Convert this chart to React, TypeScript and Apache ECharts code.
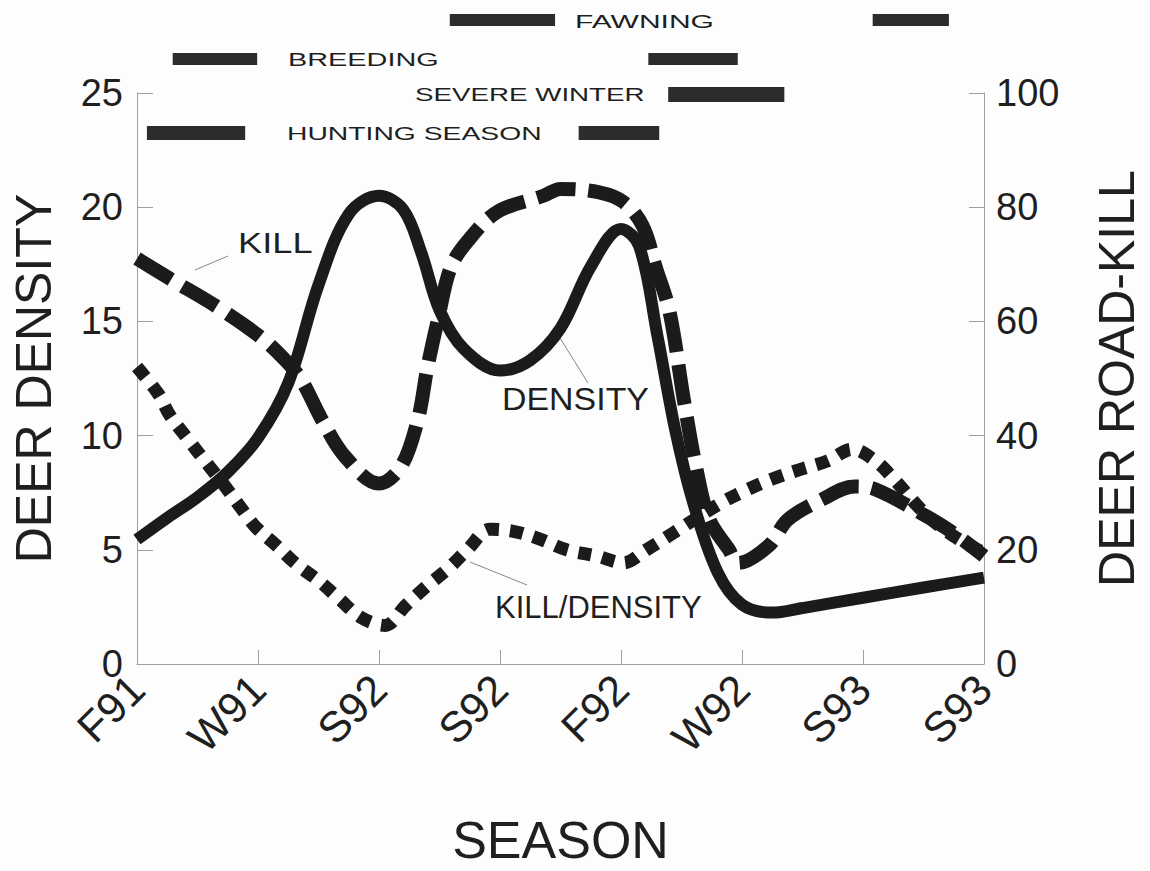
import React, { useEffect, useRef } from "react";
import * as echarts from "echarts";

// Category tick labels (x positions 0..7)
const seasons = ["F91", "W91", "S92", "S92", "F92", "W92", "S93", "S93"];

// Deer density (left axis), [season position, density]
const densityPts: [number, number][] = [
  [0, 5.45], [0.25, 6.4], [0.5, 7.3], [0.75, 8.4], [1.0, 9.9], [1.25, 12.3],
  [1.5, 16.6], [1.75, 19.7], [2.0, 20.5], [2.2, 19.9], [2.35, 18.0], [2.5, 15.5],
  [2.7, 13.8], [3.0, 12.85], [3.25, 13.3], [3.5, 14.7], [3.75, 17.4], [4.0, 19.05],
  [4.15, 18.3], [4.3, 14.4], [4.45, 10.2], [4.6, 7.0], [4.8, 4.0], [5.0, 2.6],
  [5.25, 2.25], [5.5, 2.45], [6.0, 2.9], [6.5, 3.35], [7.0, 3.78],
];

// Deer road-kill (right axis)
const killPts: [number, number][] = [
  [0, 71], [0.27, 67.5], [0.68, 62.3], [1.03, 57.1], [1.23, 53.1], [1.36, 49.7],
  [1.53, 42.7], [1.72, 36.3], [2.0, 31.6], [2.18, 34.5], [2.32, 42.7], [2.4, 51.9],
  [2.49, 60.6], [2.59, 69.3], [2.73, 74], [2.98, 79.2], [3.36, 82], [3.5, 83.2],
  [3.82, 82.6], [4.02, 80.9], [4.18, 76.7], [4.29, 69.3], [4.4, 61.8], [4.52, 46.2],
  [4.62, 34.5], [4.73, 25.3], [4.89, 20.1], [4.97, 17.7], [5.22, 20.7], [5.38, 25.3],
  [5.66, 28.8], [5.93, 31.1], [6.1, 30.6], [6.48, 26.4], [6.75, 22.9], [7, 18.9],
];

// Kill / density ratio (left axis)
const ratioPts: [number, number][] = [
  [0, 13.0], [0.18, 11.8], [0.27, 10.9], [0.42, 9.85], [0.56, 8.9], [0.71, 7.9],
  [0.85, 6.9], [0.98, 6.0], [1.15, 5.2], [1.31, 4.4], [1.5, 3.65], [1.67, 2.86],
  [1.85, 2.04], [2.05, 1.69], [2.22, 2.56], [2.4, 3.43], [2.57, 4.17], [2.73, 5.0],
  [2.92, 5.9], [3.12, 5.8], [3.33, 5.47], [3.55, 5.0], [3.8, 4.73], [4.02, 4.43],
  [4.21, 5.0], [4.43, 5.73], [4.81, 7.0], [5.03, 7.6], [5.25, 8.1], [5.47, 8.5],
  [5.71, 8.9], [5.91, 9.4], [6.1, 8.9], [6.26, 8.07], [6.51, 6.6], [6.75, 5.6], [7, 4.86],
];

// Seasonal periods: [start, end, row]  rows: 0 fawning, 1 breeding, 2 severe winter, 3 hunting
const periods: [number, number, number][] = [
  [2.585, 3.455, 0], [6.08, 6.71, 0],
  [0.295, 0.993, 1], [4.226, 4.965, 1],
  [4.39, 5.35, 2],
  [0.082, 0.894, 3], [3.65, 4.316, 3],
];
const periodNames = ["FAWNING", "BREEDING", "SEVERE WINTER", "HUNTING SEASON"];

const FONT = '"Liberation Sans", Arial, Helvetica, sans-serif';
const INK = "#1f1f1f";
const LINE = "#1b1b1b";
const AXIS = "#a0a0a0";

const rowTop = [14, 53, 87, 126];
const rowH = [12, 12, 15, 14];
const rowTextX = [575, 288, 415, 287];
const rowTextY = [21, 59, 94, 133];
const rowTextScale = [1.58, 1.52, 1.46, 1.49];

export default function App() {
  const ref = useRef<HTMLDivElement>(null);
  useEffect(() => {
    if (!ref.current) return;
    const chart = echarts.init(ref.current, null, { renderer: "svg" });
    const axisTextStyle = { fontFamily: FONT, color: INK };
    const lineCommon = { type: "line", smooth: 0.35, showSymbol: false };
    const option: any = {
      animation: false,
      backgroundColor: "#fdfdfd",
      grid: { left: 137, right: 160, top: 93, bottom: 202, containLabel: false },
      xAxis: {
        type: "value",
        min: 0,
        max: 7,
        interval: 1,
        name: "SEASON",
        nameLocation: "middle",
        nameGap: 150,
        nameTextStyle: { ...axisTextStyle, fontSize: 52 },
        axisLine: { show: true, lineStyle: { color: AXIS, width: 1 } },
        axisTick: { show: true, inside: true, length: 14, lineStyle: { color: AXIS } },
        splitLine: { show: false },
        axisLabel: {
          ...axisTextStyle,
          fontSize: 43,
          rotate: 45,
          margin: 18,
          formatter: (v: number) => seasons[Math.round(v)] ?? "",
        },
      },
      yAxis: [
        {
          type: "value",
          min: 0,
          max: 25,
          interval: 5,
          position: "left",
          name: "DEER DENSITY",
          nameLocation: "middle",
          nameRotate: 90,
          nameGap: 78,
          nameTextStyle: { ...axisTextStyle, fontSize: 50 },
          axisLine: { show: true, lineStyle: { color: AXIS, width: 1 } },
          axisTick: { show: true, inside: true, length: 16, lineStyle: { color: AXIS } },
          splitLine: { show: false },
          axisLabel: { ...axisTextStyle, fontSize: 38, margin: 14 },
        },
        {
          type: "value",
          min: 0,
          max: 100,
          interval: 20,
          position: "right",
          name: "DEER ROAD-KILL",
          nameLocation: "middle",
          nameRotate: 90,
          nameGap: 108,
          nameTextStyle: { ...axisTextStyle, fontSize: 50 },
          axisLine: { show: true, lineStyle: { color: AXIS, width: 1 } },
          axisTick: { show: true, inside: true, length: 15, lineStyle: { color: AXIS } },
          splitLine: { show: false },
          axisLabel: { ...axisTextStyle, fontSize: 38, margin: 12 },
        },
      ],
      series: [
        {
          ...lineCommon,
          name: "KILL/DENSITY",
          yAxisIndex: 0,
          data: ratioPts,
          lineStyle: { color: LINE, width: 13, type: [13, 11], cap: "butt" },
        },
        {
          ...lineCommon,
          name: "KILL",
          yAxisIndex: 1,
          data: killPts,
          lineStyle: { color: LINE, width: 14, type: [40, 13], cap: "butt" },
        },
        {
          ...lineCommon,
          name: "DENSITY",
          yAxisIndex: 0,
          data: densityPts,
          lineStyle: { color: LINE, width: 12 },
        },
        {
          name: "PERIODS",
          type: "custom",
          xAxisIndex: 0,
          yAxisIndex: 0,
          clip: false,
          data: periods,
          encode: { x: [0, 1], y: 2 },
          renderItem: (params: any, api: any) => {
            const x0 = api.coord([api.value(0), 0])[0];
            const x1 = api.coord([api.value(1), 0])[0];
            const r = api.value(2);
            return {
              type: "rect",
              shape: { x: x0, y: rowTop[r], width: x1 - x0, height: rowH[r] },
              style: { fill: "#2c2c2c" },
            };
          },
        },
      ],
      graphic: [
        ...periodNames.map((t, i) => ({
          type: "text",
          x: rowTextX[i],
          y: rowTextY[i],
          scaleX: rowTextScale[i],
          style: {
            text: t,
            font: `19px ${FONT}`,
            fill: INK,
            textAlign: "left",
            textVerticalAlign: "middle",
          },
        })),
        {
          type: "text",
          x: 238,
          y: 243,
          scaleX: 1.25,
          style: { text: "KILL", font: `29px ${FONT}`, fill: INK, textAlign: "left", textVerticalAlign: "middle" },
        },
        {
          type: "text",
          x: 502,
          y: 399,
          scaleX: 1.06,
          style: { text: "DENSITY", font: `32px ${FONT}`, fill: INK, textAlign: "left", textVerticalAlign: "middle" },
        },
        {
          type: "text",
          x: 495,
          y: 607,
          scaleX: 1.0,
          style: { text: "KILL/DENSITY", font: `31px ${FONT}`, fill: INK, textAlign: "left", textVerticalAlign: "middle" },
        },
        { type: "line", shape: { x1: 195, y1: 270, x2: 228, y2: 256 }, style: { stroke: "#888", lineWidth: 1 } },
        { type: "line", shape: { x1: 560, y1: 338, x2: 588, y2: 383 }, style: { stroke: "#888", lineWidth: 1 } },
        { type: "line", shape: { x1: 470, y1: 562, x2: 527, y2: 585 }, style: { stroke: "#888", lineWidth: 1 } },
      ],
    };
    chart.setOption(option);
    return () => chart.dispose();
  }, []);
  return (
    <div
      ref={ref}
      style={{ position: "fixed", left: 0, top: 0, width: 1150, height: 871, background: "#fdfdfd" }}
    />
  );
}
